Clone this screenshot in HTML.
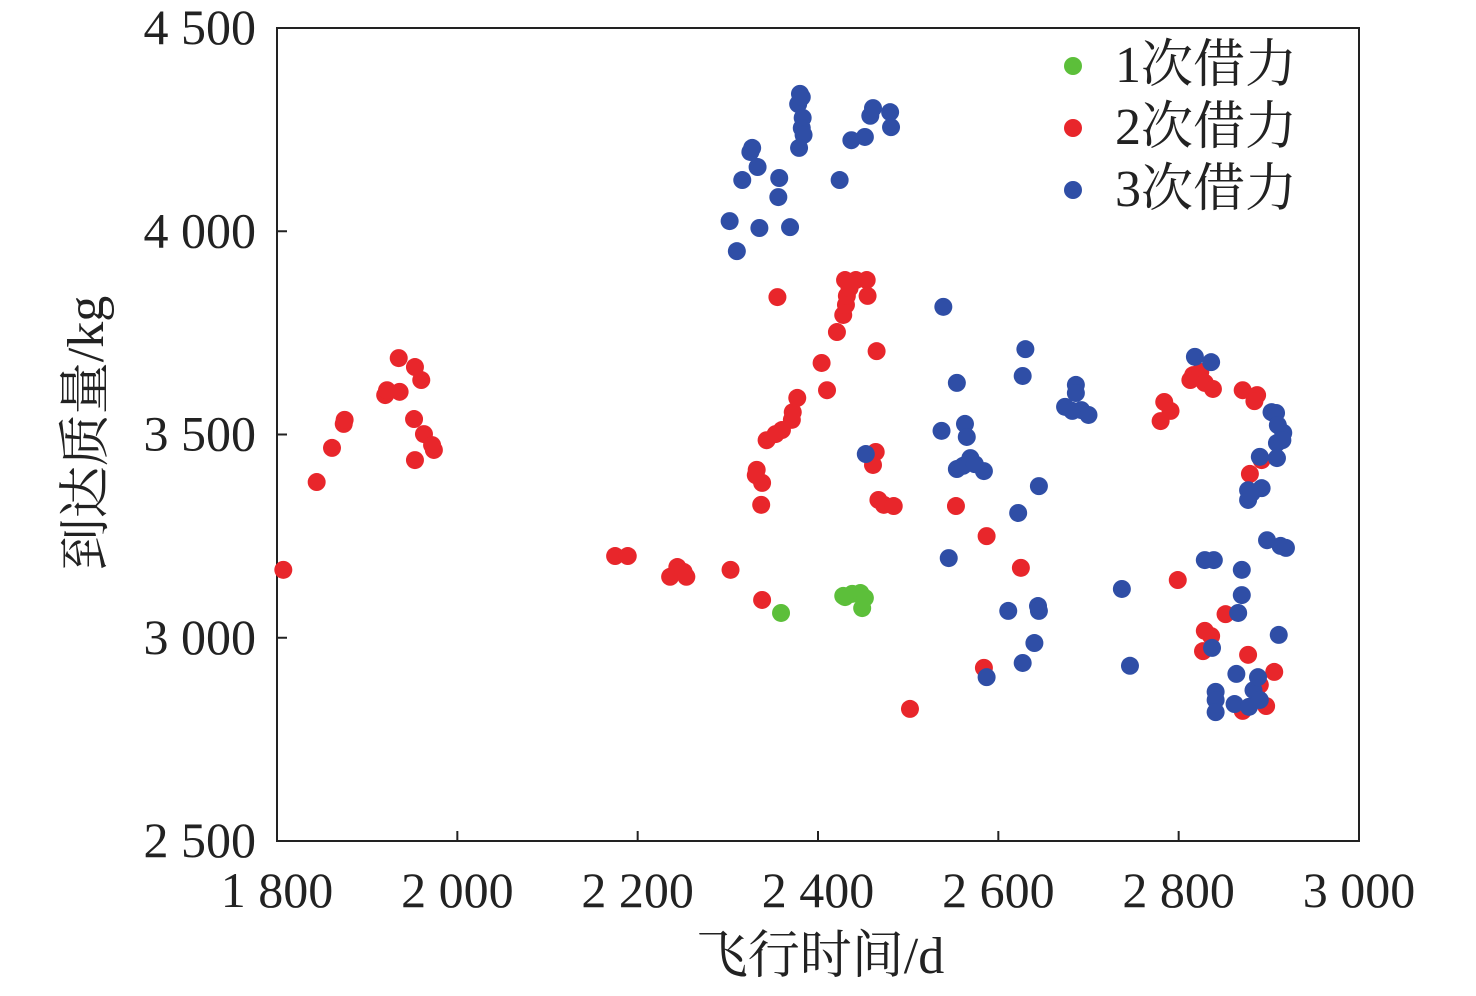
<!DOCTYPE html>
<html><head><meta charset="utf-8"><style>
html,body{margin:0;padding:0;background:#fff;}
svg text{font-family:"Liberation Serif","Noto Serif CJK SC",serif;fill:#222;}
</style></head><body>
<svg id="chart" width="1476" height="991" xmlns="http://www.w3.org/2000/svg">
<rect x="277" y="28" width="1082" height="813" fill="none" stroke="#222" stroke-width="2"/>
<g id="ticks"></g>
<g id="marks"></g>
<text x="820" y="973" font-size="52" text-anchor="middle">飞行时间/d</text>
<text transform="translate(103,433) rotate(-90)" font-size="52" text-anchor="middle">到达质量/kg</text>
<g>
<circle cx="1073" cy="66" r="9" fill="#5cbf3a"/>
<text x="1115" y="82" font-size="52">1次借力</text>
<circle cx="1073" cy="128" r="9" fill="#e8262b"/>
<text x="1115" y="144" font-size="52">2次借力</text>
<circle cx="1073" cy="190" r="9" fill="#2f4ea6"/>
<text x="1115" y="206" font-size="52">3次借力</text>
</g>
</svg>
<script>
const xTicks=[1800,2000,2200,2400,2600,2800,3000];
const yTicks=[2500,3000,3500,4000,4500];
const xTickLabels=["1 800","2 000","2 200","2 400","2 600","2 800","3 000"];
const yTickLabels=["2 500","3 000","3 500","4 000","4 500"];
const greenX=[2359,2428,2438,2447,2452,2449,2430];
const greenY=[3061,3103,3108,3110,3098,3073,3100];
const redX=[1807,1844,1861,1874,1875,1920,1922,1936,1935,1953,1960,1952,1963,1953,1974,1972,2175,2189,2236,2244,2251,2254,2303,2338,2337,2338,2332,2331,2343,2353,2360,2371,2372,2377,2355,2404,2410,2421,2428,2431,2432,2435,2430,2442,2454,2455,2465,2464,2461,2467,2473,2484,2502,2553,2587,2584,2625,2780,2784,2791,2799,2813,2816,2824,2829,2838,2871,2887,2884,2879,2892,2852,2829,2836,2827,2877,2906,2890,2897,2871];
const redY=[3167,3383,3467,3526,3536,3597,3609,3605,3688,3666,3634,3538,3501,3437,3462,3474,3201,3201,3150,3174,3162,3150,3167,3093,3327,3381,3413,3400,3486,3501,3511,3536,3555,3590,3838,3676,3609,3752,3794,3819,3841,3860,3880,3880,3880,3841,3705,3457,3425,3339,3327,3324,2825,3324,3250,2926,3172,3533,3580,3558,3142,3634,3646,3654,3627,3612,3609,3597,3582,3403,3437,3058,3017,3004,2967,2958,2916,2884,2832,2820];
const blueX=[2302,2310,2316,2325,2327,2335,2333,2357,2356,2369,2378,2380,2382,2383,2382,2384,2379,2424,2437,2452,2458,2461,2480,2481,2539,2537,2554,2563,2565,2554,2561,2569,2574,2584,2545,2630,2627,2622,2645,2611,2644,2645,2640,2627,2587,2674,2682,2686,2686,2692,2700,2453,2737,2746,2818,2836,2829,2839,2837,2870,2870,2866,2864,2841,2841,2841,2862,2878,2883,2888,2890,2877,2877,2881,2890,2892,2898,2913,2919,2903,2908,2910,2916,2909,2909,2915,2911];
const blueY=[4025,3951,4126,4195,4205,4008,4158,4131,4084,4010,4313,4338,4330,4279,4254,4237,4205,4126,4224,4232,4284,4303,4293,4256,3814,3509,3627,3526,3494,3415,3423,3442,3427,3410,3196,3710,3644,3307,3373,3066,3078,3066,2987,2938,2903,3568,3558,3622,3602,3560,3548,3452,3120,2931,3691,3678,3191,3191,2975,3167,3105,3061,2911,2867,2847,2817,2837,2830,2871,2903,2847,3363,3339,3356,3445,3368,3240,3226,3221,3555,3553,3523,3504,3479,3442,3486,3007];
const NS="http://www.w3.org/2000/svg";
const X0=277,X1=1359,Y0=841,Y1=28;
function sx(v){return X0+(v-1800)/(3000-1800)*(X1-X0);}
function sy(v){return Y0-(v-2500)/(4500-2500)*(Y0-Y1);}
const tg=document.getElementById('ticks');
function mk(tag,attrs,parent){const e=document.createElementNS(NS,tag);for(const k in attrs)e.setAttribute(k,attrs[k]);parent.appendChild(e);return e;}
xTicks.forEach((v,i)=>{
  const l=mk('line',{x1:sx(v),x2:sx(v),y1:Y0,y2:Y0-10,stroke:'#222','stroke-width':2},tg);
  
  
  const t=mk('text',{x:sx(v),y:907,'font-size':50,'text-anchor':'middle'},tg);
  t.textContent=xTickLabels[i];
  
  
});
yTicks.forEach((v,i)=>{
  const l=mk('line',{x1:X0,x2:X0+10,y1:sy(v),y2:sy(v),stroke:'#222','stroke-width':2},tg);
  
  
  const t=mk('text',{x:256,y:sy(v)+16,'font-size':50,'text-anchor':'end'},tg);
  t.textContent=yTickLabels[i];
  
  
});
const mg=document.getElementById('marks');
function series(xs,ys,color,name){
  xs.forEach((x,i)=>{
    const c=mk('circle',{cx:sx(x),cy:sy(ys[i]),r:9,fill:color},mg);
    
    
  });
}
series(redX,redY,'#e8262b','point-2-assist');
series(blueX,blueY,'#2f4ea6','point-3-assist');
series(greenX,greenY,'#5cbf3a','point-1-assist');
</script>
</body></html>
